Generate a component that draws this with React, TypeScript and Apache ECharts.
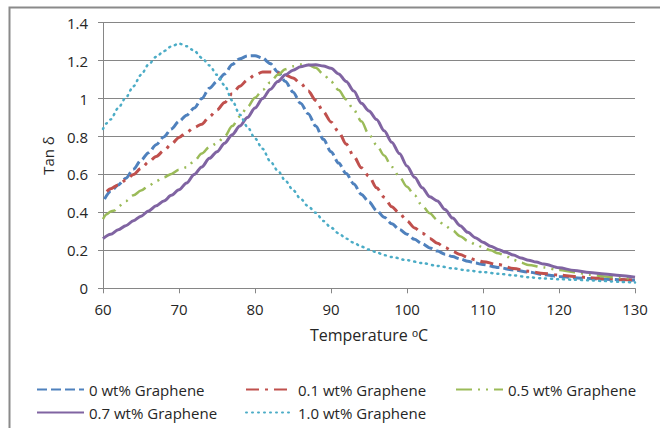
import React, { useEffect, useRef } from "react";
import * as echarts from "echarts";

const seriesNames = ["0 wt% Graphene", "0.1 wt% Graphene", "0.5 wt% Graphene", "0.7 wt% Graphene", "1.0 wt% Graphene"];

const t0 = [60.2, 61, 62, 63, 64, 65, 66, 67, 68, 69, 70, 71, 72, 73, 74, 75, 76, 77, 78, 79, 80, 81, 82, 83, 84, 85, 86, 87, 88, 89, 90, 91, 92, 93, 94, 95, 96, 97, 98, 99, 100, 101, 102, 103, 104, 105, 106, 107, 108, 109, 110, 112, 114, 116, 118, 120, 122, 124, 126, 128, 130];
const v0 = [0.47, 0.51, 0.545, 0.58, 0.628, 0.675, 0.715, 0.757, 0.798, 0.84, 0.88, 0.912, 0.95, 1.0, 1.055, 1.09, 1.13, 1.18, 1.21, 1.225, 1.226, 1.213, 1.185, 1.14, 1.09, 1.035, 0.975, 0.92, 0.855, 0.785, 0.72, 0.66, 0.605, 0.55, 0.495, 0.455, 0.41, 0.375, 0.34, 0.31, 0.285, 0.258, 0.235, 0.213, 0.196, 0.18, 0.167, 0.155, 0.143, 0.133, 0.125, 0.11, 0.097, 0.085, 0.072, 0.062, 0.056, 0.051, 0.048, 0.045, 0.042];

const t01 = [60.5, 61, 62, 63, 64, 65, 66, 67, 68, 69, 70, 71, 72, 73, 74, 75, 76, 77, 78, 79, 80, 81, 82, 83, 84, 85, 86, 87, 88, 89, 90, 91, 92, 93, 94, 95, 96, 97, 98, 99, 100, 101, 102, 103, 104, 105, 106, 107, 108, 109, 110, 112, 114, 116, 118, 120, 122, 124, 126, 128, 130];
const v01 = [0.51, 0.525, 0.545, 0.57, 0.6, 0.632, 0.665, 0.695, 0.725, 0.76, 0.795, 0.822, 0.848, 0.865, 0.905, 0.94, 0.98, 1.025, 1.065, 1.098, 1.125, 1.14, 1.14, 1.135, 1.125, 1.108, 1.08, 1.04, 0.99, 0.93, 0.877, 0.825, 0.76, 0.695, 0.635, 0.59, 0.53, 0.48, 0.43, 0.395, 0.355, 0.318, 0.29, 0.263, 0.237, 0.215, 0.195, 0.178, 0.163, 0.15, 0.14, 0.125, 0.105, 0.09, 0.078, 0.07, 0.062, 0.056, 0.05, 0.046, 0.043];

const t05 = [60, 60.5, 61, 61.5, 62, 63, 64, 65, 66, 67, 68, 69, 70, 71, 72, 73, 74, 75, 76, 77, 78, 79, 80, 81, 82, 83, 84, 85, 86, 87, 88, 89, 90, 91, 92, 93, 94, 95, 96, 97, 98, 99, 100, 101, 102, 103, 104, 105, 106, 107, 108, 109, 110, 111, 112, 113, 114, 115, 116, 118, 120, 122, 124, 126, 128, 130];
const v05 = [0.365, 0.39, 0.405, 0.41, 0.43, 0.46, 0.49, 0.515, 0.54, 0.565, 0.585, 0.603, 0.625, 0.638, 0.67, 0.71, 0.745, 0.765, 0.8, 0.855, 0.905, 0.955, 1.005, 1.045, 1.085, 1.125, 1.155, 1.17, 1.18, 1.178, 1.162, 1.128, 1.09, 1.045, 0.995, 0.94, 0.88, 0.81, 0.755, 0.7, 0.64, 0.588, 0.535, 0.49, 0.435, 0.395, 0.36, 0.33, 0.305, 0.275, 0.25, 0.232, 0.215, 0.2, 0.185, 0.17, 0.15, 0.135, 0.123, 0.11, 0.096, 0.085, 0.072, 0.062, 0.055, 0.05];

const t07 = [60, 61, 62, 63, 64, 65, 66, 67, 68, 69, 70, 71, 72, 73, 74, 75, 76, 77, 78, 79, 80, 81, 82, 83, 84, 85, 86, 87, 88, 89, 90, 91, 92, 93, 94, 95, 96, 97, 98, 99, 100, 101, 102, 103, 104, 105, 106, 107, 108, 109, 110, 111, 112, 113, 114, 115, 116, 117, 118, 120, 122, 124, 126, 128, 130];
const v07 = [0.262, 0.285, 0.308, 0.33, 0.356, 0.38, 0.408, 0.435, 0.46, 0.49, 0.52, 0.555, 0.6, 0.64, 0.685, 0.72, 0.765, 0.81, 0.855, 0.9, 0.95, 1.0, 1.048, 1.09, 1.125, 1.15, 1.168, 1.177, 1.178, 1.172, 1.16, 1.13, 1.09, 1.04, 0.975, 0.935, 0.89, 0.83, 0.77, 0.71, 0.645, 0.585, 0.53, 0.482, 0.46, 0.415, 0.37, 0.33, 0.295, 0.267, 0.243, 0.222, 0.205, 0.19, 0.175, 0.16, 0.148, 0.138, 0.128, 0.108, 0.094, 0.083, 0.075, 0.068, 0.058];

const t10 = [60, 60.5, 61, 62, 63, 64, 65, 66, 67, 68, 69, 70, 71, 72, 73, 74, 75, 76, 77, 78, 79, 80, 81, 82, 83, 84, 85, 86, 87, 88, 89, 90, 91, 92, 93, 94, 95, 96, 97, 98, 100, 102, 104, 106, 108, 110, 112, 114, 116, 118, 120, 122, 124, 126, 128, 130];
const v10 = [0.84, 0.87, 0.89, 0.95, 1.005, 1.065, 1.125, 1.18, 1.22, 1.25, 1.275, 1.29, 1.276, 1.252, 1.215, 1.175, 1.125, 1.07, 0.99, 0.915, 0.851, 0.79, 0.735, 0.67, 0.62, 0.567, 0.518, 0.472, 0.432, 0.398, 0.355, 0.32, 0.29, 0.262, 0.24, 0.22, 0.204, 0.19, 0.175, 0.165, 0.148, 0.133, 0.118, 0.105, 0.094, 0.085, 0.077, 0.068, 0.058, 0.052, 0.048, 0.045, 0.042, 0.038, 0.034, 0.03];

const xMin = 60, xMax = 130, xStep = 10;
const yMin = 0, yMax = 1.4, yStep = 0.2;

const colors = ["#4F81BD", "#C0504D", "#9BBB59", "#8064A2", "#4BACC6"];

export default function App() {
  const ref = useRef<HTMLDivElement>(null);
  useEffect(() => {
    if (!ref.current) return;
    const chart = echarts.init(ref.current, undefined, { renderer: "svg" });
    const font = "'Open Sans', sans-serif";
    const pair = (t: number[], v: number[]) => t.map((x, i) => [x, v[i]]);
    const lineStyles: any[] = [
      { color: colors[0], width: 3, type: [10, 4] },
      { color: colors[1], width: 3, type: [13, 6, 3, 6] },
      { color: colors[2], width: 2.5, type: [16, 6, 2, 6, 2, 6] },
      { color: colors[3], width: 3, type: "solid" },
      { color: colors[4], width: 2.5, type: [1, 5], cap: "round" },
    ];
    const datas = [pair(t0, v0), pair(t01, v01), pair(t05, v05), pair(t07, v07), pair(t10, v10)];
    const legendPos = [
      { left: 36, top: 382 },
      { left: 245, top: 382 },
      { left: 455, top: 382 },
      { left: 36, top: 405 },
      { left: 245, top: 405 },
    ];
    chart.setOption({
      animation: false,
      backgroundColor: "#ffffff",
      grid: { left: 103, right: 25, top: 22.7, bottom: 139.7, containLabel: false },
      graphic: [
        {
          type: "rect",
          left: 7,
          top: 5,
          shape: { x: 0, y: 0, width: 700, height: 500 },
          style: { fill: "none", stroke: "#8a8a8a", lineWidth: 2 },
          silent: true,
        },
      ],
      legend: seriesNames.map((n, i) => ({
        data: [n],
        left: legendPos[i].left,
        top: legendPos[i].top,
        padding: 0,
        itemWidth: 47,
        itemHeight: 14,
        itemStyle: { opacity: 0 },
        textStyle: { fontFamily: font, fontSize: 15, color: "#262626" },
      })),
      xAxis: {
        type: "value",
        min: xMin,
        max: xMax,
        interval: xStep,
        name: "Temperature ᵒC",
        nameLocation: "middle",
        nameGap: 39,
        nameTextStyle: { fontFamily: font, fontSize: 16, color: "#262626" },
        axisLine: { show: true, onZero: false, lineStyle: { color: "#868686", width: 1 } },
        axisTick: { show: true, length: 5, lineStyle: { color: "#868686" } },
        axisLabel: { fontFamily: font, fontSize: 15, color: "#262626", margin: 13 },
        splitLine: { show: false },
      },
      yAxis: {
        type: "value",
        min: yMin,
        max: yMax,
        interval: yStep,
        name: "Tan δ",
        nameLocation: "middle",
        nameGap: 48,
        nameTextStyle: { fontFamily: font, fontSize: 15, color: "#262626" },
        axisLine: { show: true, lineStyle: { color: "#868686", width: 1 } },
        axisTick: { show: true, length: 5, lineStyle: { color: "#868686" } },
        axisLabel: { fontFamily: font, fontSize: 15, color: "#262626", margin: 15 },
        splitLine: { show: true, lineStyle: { color: "#868686", width: 1 } },
      },
      series: datas.map((d, i) => ({
        type: "line",
        name: seriesNames[i],
        data: d,
        symbol: "none",
        smooth: 0.3,
        smoothMonotone: "x",
        lineStyle: lineStyles[i],
        itemStyle: { color: colors[i] },
        z: 2 + i,
      })),
    });
    return () => chart.dispose();
  }, []);
  return <div ref={ref} style={{ position: "fixed", left: 0, top: 0, width: 660, height: 428 }} />;
}
